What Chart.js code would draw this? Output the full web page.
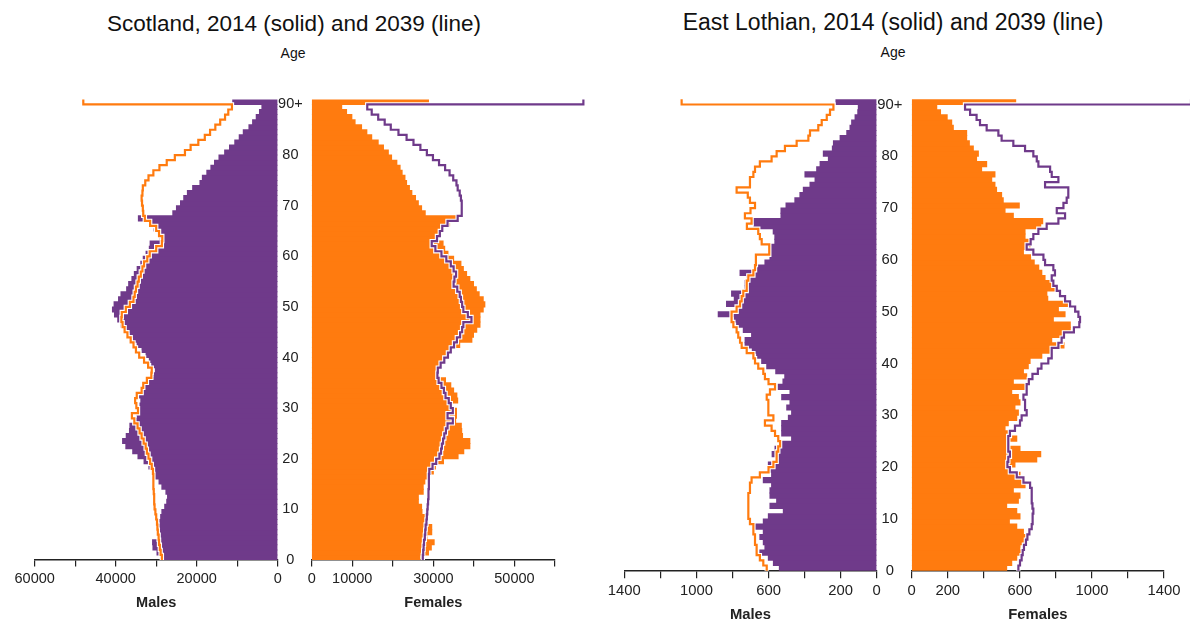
<!DOCTYPE html>
<html>
<head>
<meta charset="utf-8">
<script src="https://cdn.jsdelivr.net/npm/chart.js@4.4.1/dist/chart.umd.min.js"></script>
<style>
  html, body { margin: 0; padding: 0; background: #fff; width: 1190px; height: 620px; overflow: hidden;
               font-family: "Liberation Sans", Arial, sans-serif; }
  canvas { position: absolute; }
  .title { position: absolute; white-space: nowrap; color: #111; transform: translateX(-50%); line-height: 1; }
  .agehead { position: absolute; white-space: nowrap; color: #111; transform: translateX(-50%); line-height: 1; font-size: 14px; }
</style>
</head>
<body>
<div class="title" style="left:294px; top:13px; font-size:22.5px;">Scotland, 2014 (solid) and 2039 (line)</div>
<div class="agehead" style="left:293px; top:46px;">Age</div>
<div class="title" style="left:893px; top:11px; font-size:23px;">East Lothian, 2014 (solid) and 2039 (line)</div>
<div class="agehead" style="left:893px; top:45px;">Age</div>

<canvas id="scotM" width="300" height="530" style="left:0px; top:90px;"></canvas>
<canvas id="scotF" width="330" height="530" style="left:270px; top:90px;"></canvas>
<canvas id="elM" width="290" height="540" style="left:600px; top:90px;"></canvas>
<canvas id="elF" width="320" height="540" style="left:870px; top:90px;"></canvas>

<script>
// Single years of age 0..90 (the last one is 90 and over)
const ages = Array.from({ length: 91 }, (_, i) => i);
const ageTickValues = [0, 10, 20, 30, 40, 50, 60, 70, 80, 90];
const ageTickLabels = ['0', '10', '20', '30', '40', '50', '60', '70', '80', '90+'];

// Scotland, population by single year of age
const scotMales2014 = [
  28300, 29800, 30800, 30900, 29300, 29600, 29400, 29100, 28900, 28600,
  27900, 27400, 27200, 27600, 28600, 29300, 30200, 30900, 31800, 33000,
  34500, 35800, 37500, 38300, 37400, 36600, 36500, 35500, 34700, 34200,
  34000, 33800, 34100, 33600, 32800, 32400, 30600, 30200, 31100, 31700,
  32500, 33500, 34700, 35600, 36500, 37500, 38700, 39500, 40300, 40800,
  40400, 39300, 38700, 37300, 36800, 36000, 35400, 34700, 33800, 33200,
  32500, 31700, 31500, 29000, 29300, 30500, 31800, 34400, 25900, 25000,
  24000, 23200, 22300, 21000, 19200, 18600, 17500, 16500, 15600, 14500,
  13100, 11900, 10600, 9500, 8500, 7100, 6200, 5300, 4500, 3900, 11100
];
const scotMales2039 = [
  28600, 28900, 29100, 29300, 29400, 29600, 29700, 29800, 30000, 30200,
  30400, 30500, 30500, 30600, 30700, 30700, 30700, 30800, 31100, 31500,
  31900, 32300, 32600, 33100, 33600, 34100, 34600, 35400, 36000, 34500,
  34900, 35200, 34800, 33600, 33200, 32300, 31200, 31100, 32000, 33000,
  34200, 35000, 35600, 36300, 37100, 37800, 38300, 38600, 38500, 37500,
  36500, 35600, 35300, 35000, 34600, 34300, 33800, 33400, 33000, 32200,
  31600, 30000, 28600, 28500, 29300, 30000, 31500, 32800, 33200, 33300,
  33500, 33600, 33400, 33300, 32700, 31900, 30700, 29200, 27400, 25400,
  22900, 21500, 19600, 18000, 16700, 15400, 14200, 13000, 12200, 11300, 48000
];
const scotFemales2014 = [
  26700, 28800, 29500, 30200, 28400, 29600, 29600, 28400, 28000, 27200,
  27100, 26300, 26300, 27500, 27500, 27900, 28400, 30000, 30500, 32500,
  36100, 37500, 39000, 39000, 37200, 37000, 36900, 35500, 35700, 35700,
  34500, 36000, 35800, 35000, 34300, 33000, 30800, 30900, 32000, 32500,
  33300, 34100, 36500, 39500, 39900, 40700, 41500, 41500, 41500, 42300,
  42700, 42300, 41300, 40600, 39900, 39000, 38200, 37400, 36800, 35000,
  33600, 32800, 32400, 31000, 31500, 32000, 34000, 36000, 28000, 27100,
  26300, 25600, 24700, 24100, 23400, 23000, 22300, 21800, 21000, 19700,
  18900, 17700, 16400, 14800, 13600, 12300, 10700, 9900, 8600, 7400, 28800
];
const scotFemales2039 = [
  27400, 27500, 27600, 27700, 27900, 28000, 28100, 28300, 28400, 28500,
  28600, 28700, 28800, 28800, 28900, 28900, 28900, 29000, 29800, 30700,
  31500, 31900, 32100, 32400, 32700, 33100, 33500, 34800, 33500, 34800,
  34300, 33800, 33000, 32600, 32000, 31300, 31000, 31100, 31800, 32700,
  33600, 34300, 35100, 35800, 36600, 37100, 37400, 39400, 38500, 37400,
  37100, 36800, 36500, 35900, 35000, 35200, 35600, 35000, 34300, 33200,
  32000, 30500, 29600, 30900, 31600, 32200, 33500, 36000, 37000, 37000,
  37000, 36800, 36500, 36000, 35700, 34900, 34000, 32900, 31400, 29900,
  28400, 26800, 25100, 23400, 21400, 19500, 18000, 16400, 14800, 13700, 67000
];

// East Lothian, population by single year of age
const elMales2014 = [
  540, 573, 601, 648, 620, 629, 648, 629, 675, 629,
  601, 518, 592, 555, 592, 592, 583, 629, 583, 590,
  601, 555, 580, 564, 527, 472, 527, 527, 527, 490,
  472, 499, 481, 527, 481, 546, 520, 510, 560, 610,
  638, 666, 690, 730, 730, 694, 740, 777, 790, 879,
  777, 833, 790, 805, 731, 731, 721, 758, 675, 620,
  592, 592, 592, 565, 565, 574, 680, 688, 531, 531,
  503, 454, 426, 407, 370, 342, 398, 333, 314, 268,
  296, 246, 240, 203, 166, 148, 139, 120, 105, 102, 226
];
const elMales2039 = [
  610, 629, 648, 666, 666, 675, 675, 684, 684, 703,
  712, 712, 712, 712, 712, 703, 703, 694, 648, 600,
  573, 555, 555, 546, 536, 546, 564, 583, 620, 573,
  601, 601, 601, 610, 592, 564, 600, 620, 629, 657,
  675, 684, 721, 749, 758, 768, 777, 795, 805, 805,
  777, 758, 749, 740, 721, 721, 712, 684, 675, 670,
  670, 596, 596, 638, 648, 657, 720, 694, 731, 700,
  675, 703, 715, 777, 703, 703, 684, 675, 648, 583,
  555, 509, 444, 379, 370, 324, 305, 277, 259, 240, 1082
];
const elFemales2014 = [
  527, 555, 583, 610, 601, 620, 638, 620, 583, 542,
  601, 583, 527, 592, 601, 564, 629, 620, 601, 545,
  573, 694, 716, 601, 536, 583, 536, 518, 536, 583,
  592, 573, 601, 592, 555, 629, 564, 638, 620, 647,
  657, 722, 777, 845, 777, 840, 880, 880, 786, 851,
  814, 865, 755, 750, 804, 777, 740, 722, 705, 680,
  660, 620, 657, 648, 629, 629, 716, 727, 564, 518,
  597, 508, 499, 471, 462, 444, 462, 388, 416, 360,
  370, 342, 320, 305, 305, 231, 222, 197, 160, 139, 577
];
const elFemales2039 = [
  592, 601, 610, 616, 623, 634, 642, 653, 666, 671,
  671, 675, 670, 666, 666, 666, 657, 620, 583, 545,
  531, 536, 545, 536, 536, 536, 545, 573, 601, 610,
  638, 629, 629, 620, 638, 638, 650, 670, 700, 720,
  758, 777, 777, 814, 832, 845, 900, 930, 934, 925,
  907, 879, 851, 823, 805, 786, 777, 795, 786, 740,
  731, 675, 638, 660, 675, 703, 749, 814, 851, 805,
  842, 860, 869, 869, 740, 814, 777, 768, 703, 694,
  675, 629, 564, 499, 481, 416, 379, 360, 324, 296, 1550
];

// Horizontal axis ticks and the labels printed under them
const scotTickValues = [0, 10000, 20000, 30000, 40000, 50000, 60000];
const scotMaleTickLabels = [0, 20000, 40000, 60000];
const scotFemaleTickLabels = [0, 10000, 30000, 50000];
const elTickValues = [0, 200, 400, 600, 800, 1000, 1200, 1400];
const elMaleTickLabels = [0, 200, 600, 1000, 1400];
const elFemaleTickLabels = [0, 200, 600, 1000, 1400];

const PURPLE = '#6f3a8a';
const ORANGE = '#ff7b0f';
const INK = '#222';

Chart.defaults.font.family = '"Liberation Sans", Arial, sans-serif';

// bar for age a covers [a, a+1] on the age scale
function barPoints(values) {
  return values.map((v, i) => ({ x: v, y: ages[i] + 0.5 }));
}
// step outline: vertical run at each age's value, closed at the top of 90+
function stepPoints(values) {
  const pts = values.map((v, i) => ({ x: v, y: ages[i] }));
  pts.push({ x: values[values.length - 1], y: ages[ages.length - 1] + 1 });
  return pts;
}
// keep the plot area where the layout padding puts it
function noLabelPadding(s) {
  s.paddingTop = 0; s.paddingBottom = 0; s.paddingLeft = 0; s.paddingRight = 0;
}

function pyramidSide(id, cfg) {
  const linePts = stepPoints(cfg.line);
  new Chart(document.getElementById(id), {
    type: 'bar',
    data: {
      datasets: [
        { type: 'line', data: linePts, borderColor: cfg.lineColor, borderWidth: 2.2,
          stepped: 'after', pointRadius: 0, fill: false, clip: false, order: 1 },
        { type: 'line', data: linePts, borderColor: '#ffffff', borderWidth: 4.4,
          stepped: 'after', pointRadius: 0, fill: false, clip: false, order: 2 },
        { type: 'bar', data: barPoints(cfg.bars), backgroundColor: cfg.barColor,
          borderWidth: 0, barPercentage: 1, categoryPercentage: 1, inflateAmount: 0.5, order: 3 }
      ]
    },
    options: {
      indexAxis: 'y',
      responsive: false,
      animation: false,
      events: [],
      layout: { padding: cfg.padding },
      plugins: { legend: { display: false }, tooltip: { enabled: false } },
      scales: {
        x: {
          type: 'linear', min: 0, max: cfg.max, reverse: cfg.reverse,
          afterBuildTicks: s => { s.ticks = cfg.tickValues.map(v => ({ value: v })); },
          afterFit: s => { s.height = cfg.axisHeight; noLabelPadding(s); },
          ticks: {
            autoSkip: false, maxRotation: 0, padding: cfg.tickPad, color: INK,
            font: { size: cfg.fontSize },
            callback: v => (cfg.tickLabels.includes(v) ? String(v) : '')
          },
          grid: { drawOnChartArea: false, drawTicks: true, tickLength: cfg.tickLength, color: INK, lineWidth: 1.2 },
          border: { display: true, color: INK, width: 1.4 },
          title: { display: true, text: cfg.title, color: INK,
                   font: { size: cfg.fontSize, weight: 'bold' }, padding: { top: 0, bottom: cfg.titlePad } }
        },
        y: {
          type: 'linear', min: 0, max: 91, offset: false, position: 'left',
          display: cfg.showAges,
          afterBuildTicks: s => { s.ticks = ageTickValues.map(v => ({ value: v })); },
          afterFit: s => { s.width = cfg.ageWidth || 0; noLabelPadding(s); },
          ticks: {
            autoSkip: false, crossAlign: 'center', padding: cfg.agePad, color: INK,
            font: { size: cfg.fontSize },
            callback: v => ageTickLabels[ageTickValues.indexOf(v)]
          },
          grid: { display: false, drawTicks: false },
          border: { display: false }
        }
      }
    }
  });
}

// Scotland
pyramidSide('scotM', {
  bars: scotMales2014, line: scotMales2039, barColor: PURPLE, lineColor: ORANGE,
  max: 60000, reverse: true, tickValues: scotTickValues, tickLabels: scotMaleTickLabels,
  title: 'Males', showAges: false, fontSize: 14.5, tickLength: 6.5, tickPad: 3.5, titlePad: 8,
  axisHeight: 60, padding: { left: 34.7, right: 22.3, top: 9.4, bottom: 0 }
});
pyramidSide('scotF', {
  bars: scotFemales2014, line: scotFemales2039, barColor: ORANGE, lineColor: PURPLE,
  max: 60000, reverse: false, tickValues: scotTickValues, tickLabels: scotFemaleTickLabels,
  title: 'Females', showAges: true, ageWidth: 34, agePad: 9, fontSize: 14.5, tickLength: 6.5,
  tickPad: 3.5, titlePad: 8, axisHeight: 60, padding: { left: 7.7, right: 45, top: 9.4, bottom: 0 }
});

// East Lothian
pyramidSide('elM', {
  bars: elMales2014, line: elMales2039, barColor: PURPLE, lineColor: ORANGE,
  max: 1400, reverse: true, tickValues: elTickValues, tickLabels: elMaleTickLabels,
  title: 'Males', showAges: false, fontSize: 14.8, tickLength: 7.5, tickPad: 3.5, titlePad: 6,
  axisHeight: 59.3, padding: { left: 24.3, right: 13.3, top: 9.3, bottom: 0 }
});
pyramidSide('elF', {
  bars: elFemales2014, line: elFemales2039, barColor: ORANGE, lineColor: PURPLE,
  max: 1400, reverse: false, tickValues: elTickValues, tickLabels: elFemaleTickLabels,
  title: 'Females', showAges: true, ageWidth: 35, agePad: 9.4, fontSize: 14.8, tickLength: 7.5,
  tickPad: 3.5, titlePad: 6, axisHeight: 59.3, padding: { left: 6.7, right: 26, top: 9.3, bottom: 0 }
});
</script>
</body>
</html>
